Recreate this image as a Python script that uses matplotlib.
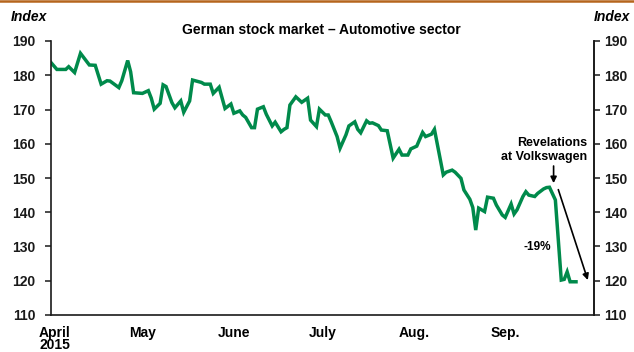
import numpy as np
import matplotlib
matplotlib.use("Agg")
import matplotlib.pyplot as plt
import matplotlib.dates as mdates
from matplotlib.lines import Line2D

# ---- data ----
start_date = np.datetime64("2015-04-01")
day_offsets = [0, 2, 5, 6, 8, 10, 13, 15, 17, 19, 20, 23, 24, 26, 27, 28, 31, 33, 34, 35,
               37, 38, 39, 41, 42, 44, 45, 47, 48, 51, 52, 54, 55, 57, 59, 61, 62, 64, 65, 66,
               68, 69, 70, 72, 73, 75, 76, 78, 79, 80, 81, 83, 85, 87, 88, 90, 91, 93, 94, 95,
               97, 98, 100, 101, 103, 104, 105, 107, 108, 109, 111, 112, 114, 116, 118, 119, 121, 122, 124, 126,
               127, 129, 130, 133, 134, 136, 137, 139, 140, 142, 143, 144, 145, 147, 148, 150, 151, 153, 154, 156,
               157, 158, 160, 161, 162, 164, 165, 167, 168, 169, 171, 173, 174, 175, 176, 178]
index_values = [183.7, 181.7, 181.7, 182.5, 180.8, 186.4, 183.0, 182.9, 177.4, 178.4, 178.3, 176.4, 178.4, 184.3, 181.0, 174.9, 174.7, 175.5, 173.3, 170.1,
                171.8, 177.2, 176.7, 172.0, 170.5, 172.5, 169.2, 172.5, 178.6, 177.9, 177.4, 177.4, 174.7, 176.5, 170.3, 171.6, 168.9, 169.6, 168.4, 167.7,
                164.7, 164.7, 170.1, 170.8, 168.6, 165.2, 166.3, 163.5, 164.2, 164.7, 171.3, 173.7, 172.1, 173.3, 166.9, 165.0, 170.1, 168.4, 168.4, 166.4,
                162.1, 158.7, 162.6, 165.2, 166.4, 164.2, 163.2, 166.7, 166.0, 166.1, 165.3, 164.0, 163.8, 155.8, 158.4, 156.7, 156.7, 158.5, 159.3, 163.3,
                162.1, 162.8, 164.2, 150.9, 151.7, 152.3, 151.7, 149.9, 146.5, 143.8, 141.4, 134.8, 141.2, 140.2, 144.4, 144.1, 142.1, 139.2, 138.5, 142.4,
                139.5, 140.7, 144.6, 146.0, 145.0, 144.6, 145.5, 146.8, 147.2, 147.3, 143.6, 120.2, 120.4, 122.6, 119.7, 119.7]
month_labels = ["April\n2015", "May", "June", "July", "Aug.", "Sep."]
month_starts = ["2015-04-01", "2015-05-01", "2015-06-01", "2015-07-01", "2015-08-01", "2015-09-01"]
y_ticks = [110, 120, 130, 140, 150, 160, 170, 180, 190]
title = "German stock market \u2013 Automotive sector"

dates = start_date + np.array(day_offsets).astype("timedelta64[D]")

# ---- figure ----
plt.rcParams["font.family"] = ["Liberation Sans", "DejaVu Sans"]
plt.rcParams["font.weight"] = "bold"

fig = plt.figure(figsize=(6.34, 3.52), dpi=100)
W, H = 634, 352
ax = fig.add_axes([51 / W, 1 - 315 / H, (594 - 51) / W, (315 - 41) / H])

green = "#008A4B"
ax.plot(dates, index_values, color=green, lw=2.5, solid_joinstyle="miter")

x0 = mdates.date2num(np.datetime64("2015-04-01"))
ax.set_xlim(x0, x0 + 184.1)
ax.set_ylim(110, 190)

ax.spines["top"].set_visible(False)
for s in ["left", "right", "bottom"]:
    ax.spines[s].set_linewidth(1.2)
    ax.spines[s].set_color("#1a1a1a")

# left y ticks
ax.set_yticks(y_ticks)
ax.set_yticklabels([str(v) for v in y_ticks])
ax.tick_params(axis="y", left=True, right=False, labelleft=True, labelright=False,
               direction="out", length=4, width=1.1, colors="#1a1a1a", labelsize=10, pad=7)

# right y ticks (own pad)
sec = ax.secondary_yaxis("right")
sec.set_yticks(y_ticks)
sec.set_yticklabels([str(v) for v in y_ticks])
sec.tick_params(axis="y", direction="out", length=4, width=1.1, colors="#1a1a1a",
                labelsize=10, pad=3)
sec.spines["right"].set_linewidth(1.2)
sec.spines["right"].set_color("#1a1a1a")

# x month labels
xt = [mdates.date2num(np.datetime64(m)) + 1.2 for m in month_starts]
ax.set_xticks(xt)
ax.set_xticklabels(month_labels, fontsize=10, fontweight="bold", linespacing=0.8)
ax.tick_params(axis="x", length=0, pad=8)

# annotations
peak_x = mdates.date2num(np.datetime64("2015-09-18")) + 0.4
ax.annotate("", xy=(peak_x, 148.5), xytext=(peak_x, 153.5),
            arrowprops=dict(arrowstyle="-|>", color="black", lw=1.2, mutation_scale=9,
                            shrinkA=0, shrinkB=0))
ax.text(x0 + 181.7, 158.2, "Revelations\nat Volkswagen", ha="right", va="center",
        fontsize=9, fontweight="bold", linespacing=1.15)
ax.annotate("", xy=(x0 + 182.0, 120.2), xytext=(x0 + 172.0, 146.6),
            arrowprops=dict(arrowstyle="-|>", color="black", lw=1.2, mutation_scale=9,
                            shrinkA=0, shrinkB=0))
ax.text(x0 + 164.9, 129.9, "-19%", ha="center", va="center", fontsize=8.5, fontweight="bold")

# title and axis units
fig.text(321 / W, 1 - 30 / H, title, ha="center", va="center", fontsize=10, fontweight="bold")
fig.text(11 / W, 1 - 17 / H, "Index", ha="left", va="center", fontsize=10,
         fontweight="bold", fontstyle="italic")
fig.text(630 / W, 1 - 17 / H, "Index", ha="right", va="center", fontsize=10,
         fontweight="bold", fontstyle="italic")

# top brown rule
fig.add_artist(Line2D([0, 1], [1 - 1.2 / H, 1 - 1.2 / H], transform=fig.transFigure,
                      color="#B5651D", lw=1.8))

fig.savefig("out.png", dpi=100)
